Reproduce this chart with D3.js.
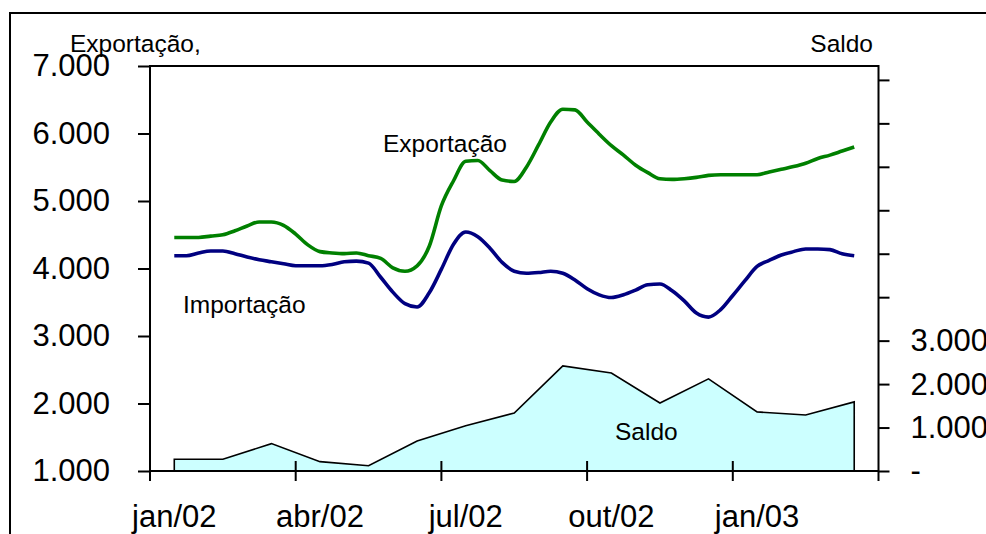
<!DOCTYPE html>
<html>
<head>
<meta charset="utf-8">
<script src="https://cdn.jsdelivr.net/npm/d3@7"></script>
<style>
  html, body { margin: 0; padding: 0; background: #fff; }
  svg { display: block; font-family: "Liberation Sans", Arial, sans-serif; }
</style>
</head>
<body>
<div id="chart"></div>
<script>
// Months (category axis) and tick labels shown every quarter
const months = ['jan/02', 'fev/02', 'mar/02', 'abr/02', 'mai/02', 'jun/02', 'jul/02',
    'ago/02', 'set/02', 'out/02', 'nov/02', 'dez/02', 'jan/03', 'fev/03', 'mar/03'];
const quarterLabels = ['jan/02', 'abr/02', 'jul/02', 'out/02', 'jan/03'];

// Saldo (monthly, right axis)
const saldo = [270, 270, 630, 215, 120, 690, 1040, 1335, 2420, 2255, 1565, 2120, 1360, 1290, 1590];

// Exportação / Importação, moving averages read every quarter of a month
const weekStep = 0.25;
const exportacao = [4460, 4460, 4460, 4480, 4500, 4560, 4630, 4690, 4690, 4640,
    4510, 4350, 4250, 4230, 4220, 4230, 4190, 4150, 4010, 3960,
    4040, 4330, 4930, 5300, 5590, 5600, 5450, 5310, 5290, 5500,
    5830, 6170, 6360, 6350, 6170, 5990, 5820, 5680, 5530, 5420,
    5330, 5320, 5330, 5350, 5380, 5390, 5390, 5390, 5390, 5430,
    5470, 5510, 5560, 5630, 5680, 5740, 5800];
const importacao = [4190, 4190, 4230, 4260, 4260, 4220, 4170, 4130, 4100, 4070,
    4040, 4040, 4040, 4060, 4100, 4110, 4080, 3870, 3650, 3480,
    3430, 3640, 3990, 4360, 4540, 4470, 4300, 4090, 3960, 3930,
    3940, 3960, 3930, 3830, 3700, 3610, 3570, 3610, 3680, 3760,
    3770, 3670, 3520, 3340, 3280, 3390, 3600, 3820, 4030, 4120,
    4200, 4250, 4290, 4290, 4280, 4220, 4190];

const leftTicks = [1000, 2000, 3000, 4000, 5000, 6000, 7000];
const rightTicks = d3.range(0, 10000, 1000);
const rightLabelMax = 3000;

// Layout
const width = 986, height = 534;
const plot = { left: 150, right: 878.5, top: 66, bottom: 471 };

const ptBR = d3.formatLocale({ decimal: ',', thousands: '.', grouping: [3], currency: ['R$', ''] });
const fmt = ptBR.format(',.0f');

const svg = d3.select('#chart')
    .append('svg')
    .attr('width', width)
    .attr('height', height);

// Scales
const xBand = d3.scaleBand().domain(months).range([plot.left, plot.right]);
const bw = xBand.bandwidth();
const xIdx = d3.scaleLinear()
    .domain([0, months.length - 1])
    .range([plot.left + bw / 2, plot.right - bw / 2]);
const yL = d3.scaleLinear().domain([1000, 7000]).range([plot.bottom, plot.top]);
const yR = d3.scaleLinear().domain([0, 9320]).range([plot.bottom, plot.top]);

// Outer frame
svg.append('path')
    .attr('d', `M10,${height + 2}V13H${width + 2}`)
    .attr('fill', 'none')
    .attr('stroke', '#000')
    .attr('stroke-width', 2);

// Saldo area
const area = d3.area()
    .x((d, i) => xIdx(i))
    .y0(yR(0))
    .y1(d => yR(d));

svg.append('path')
    .datum(saldo)
    .attr('d', d => area(d) + 'Z')
    .attr('fill', '#ccffff')
    .attr('stroke', '#000')
    .attr('stroke-width', 1.6)
    .attr('stroke-linejoin', 'miter');

// Lines
const line = d3.line()
    .x((d, i) => xIdx(i * weekStep))
    .y(d => yL(d))
    .curve(d3.curveMonotoneX);

svg.append('path')
    .datum(exportacao)
    .attr('d', line)
    .attr('fill', 'none')
    .attr('stroke', '#008000')
    .attr('stroke-width', 3.6)
    .attr('stroke-linejoin', 'round');

svg.append('path')
    .datum(importacao)
    .attr('d', line)
    .attr('fill', 'none')
    .attr('stroke', '#000080')
    .attr('stroke-width', 3.6)
    .attr('stroke-linejoin', 'round');

// Plot frame (top + sides + bottom)
svg.append('rect')
    .attr('x', plot.left)
    .attr('y', plot.top)
    .attr('width', plot.right - plot.left)
    .attr('height', plot.bottom - plot.top)
    .attr('fill', 'none')
    .attr('stroke', '#000')
    .attr('stroke-width', 2);

// Left axis
const leftAxis = svg.append('g')
    .attr('transform', `translate(${plot.left},0)`)
    .call(d3.axisLeft(yL)
        .tickValues(leftTicks)
        .tickSize(12)
        .tickPadding(28)
        .tickFormat(fmt));

// Right axis
const rightAxis = svg.append('g')
    .attr('transform', `translate(${plot.right},0)`)
    .call(d3.axisRight(yR)
        .tickValues(rightTicks)
        .tickSize(11)
        .tickPadding(21)
        .tickFormat(d => d === 0 ? '-' : (d <= rightLabelMax ? fmt(d) : '')));

[leftAxis, rightAxis].forEach(g => {
    g.select('.domain').remove();
    g.selectAll('.tick line').attr('stroke', '#000').attr('stroke-width', 2);
    g.selectAll('.tick text')
        .attr('fill', '#000')
        .style('font-size', '31px')
        .style('font-family', '"Liberation Sans", Arial, sans-serif');
});

// Category (x) axis: ticks between quarters, labels at month centres
const xTicks = months.map((m, i) => i).filter(i => i % 3 === 0).map(i => xBand(months[i]));
xTicks.push(plot.right);

svg.append('g')
    .selectAll('line')
    .data(xTicks)
    .join('line')
    .attr('x1', d => d)
    .attr('x2', d => d)
    .attr('y1', (d, i) => (i === 0 || i === xTicks.length - 1) ? plot.bottom : plot.bottom - 10)
    .attr('y2', plot.bottom + 10)
    .attr('stroke', '#000')
    .attr('stroke-width', 2);

svg.append('g')
    .selectAll('text')
    .data(quarterLabels)
    .join('text')
    .attr('x', d => xBand(d) + bw / 2)
    .attr('y', 527)
    .attr('text-anchor', 'middle')
    .style('font-size', '31px')
    .text(d => d);

// Titles and series labels
const labels = [
    { text: 'Exportação,', x: 70, y: 52, anchor: 'start' },
    { text: 'Saldo', x: 873, y: 52, anchor: 'end' },
    { text: 'Exportação', x: 383, y: 152, anchor: 'start' },
    { text: 'Importação', x: 183, y: 313, anchor: 'start' },
    { text: 'Saldo', x: 615, y: 440, anchor: 'start' }
];

svg.append('g')
    .selectAll('text')
    .data(labels)
    .join('text')
    .attr('x', d => d.x)
    .attr('y', d => d.y)
    .attr('text-anchor', d => d.anchor)
    .style('font-size', '24.5px')
    .text(d => d.text);
</script>
</body>
</html>
